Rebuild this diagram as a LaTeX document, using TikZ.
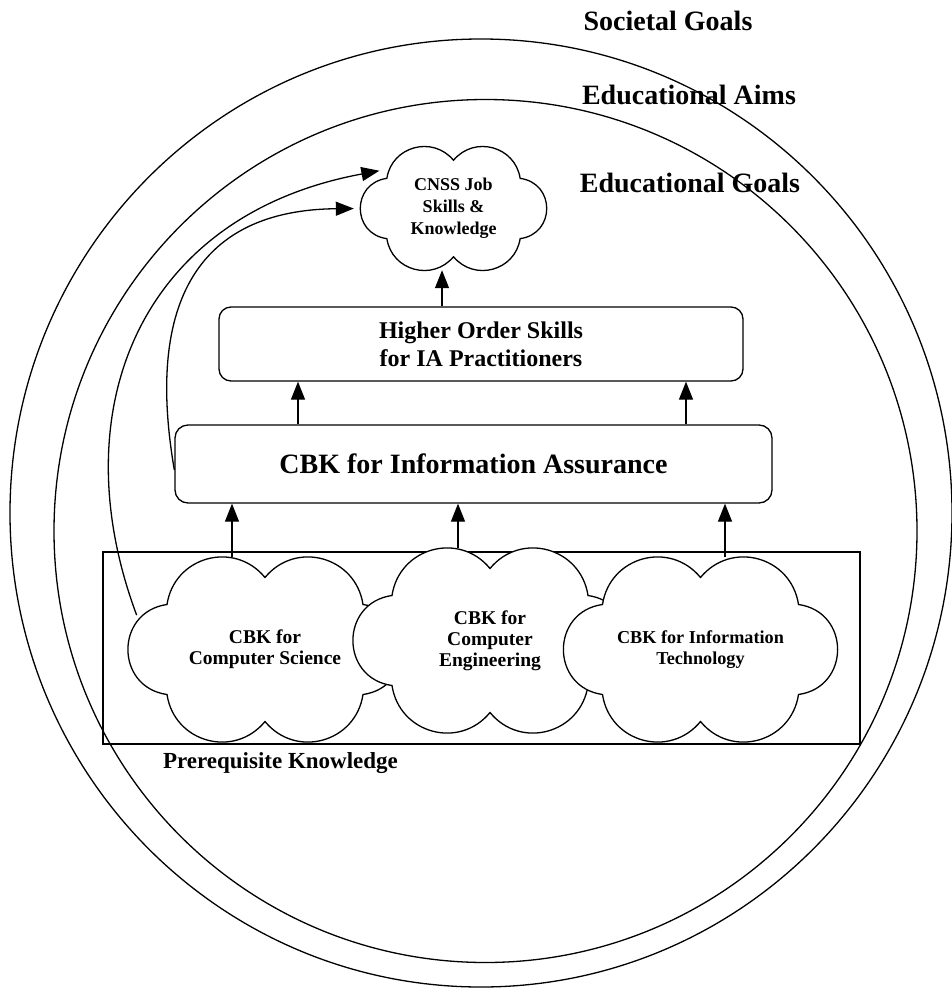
\documentclass[tikz,border=0pt]{standalone}
\usepackage{fontspec}
\setmainfont{Liberation Serif}
\usetikzlibrary{arrows.meta,shapes.geometric}
\newcommand{\cloudoutline}{%
 (98,45) to[bend right=66,looseness=1.22] (0,72)
 to[bend right=66,looseness=1.22] (-98,45)
 to[bend right=82,looseness=1.5] (-98,-45)
 to[bend right=66,looseness=1.22] (0,-72)
 to[bend right=66,looseness=1.22] (98,-45)
 to[bend right=82,looseness=1.5] (98,45) -- cycle}
\newcommand{\drawcloud}[4]{%
 \begin{scope}[shift={(#1,#2)},xscale=#3,yscale=#4]
  \draw[cloudline] \cloudoutline;
 \end{scope}}
\tikzset{
 ln/.style={line width=1.3pt},
 arr/.style={ln,-{Triangle[length=18pt,width=14pt]}},
 cloudline/.style={ln,fill=white},
 boxnode/.style={draw,ln,rounded corners=12pt,align=center,inner sep=0pt},
 cloudnode/.style={ellipse,draw=none,align=center,inner sep=0pt},
 biglbl/.style={font=\fontsize{28}{32}\selectfont\bfseries,inner sep=0pt},
}
\begin{document}
\begin{tikzpicture}[x=1pt,y=1pt]
\useasboundingbox (0,0) rectangle (952,-988);
% circles
\draw[ln] (481,-513) ellipse [x radius=471, y radius=474];
\draw[ln] (485.5,-531) circle [radius=431.5];
% labels
\node[biglbl] (sg) at (668,-21) {Societal Goals};
\node[biglbl] (ea) at (689,-95) {Educational Aims};
\node[biglbl] (eg) at (690,-183) {Educational Goals};
% prerequisite box
\node[draw,ln,minimum width=757pt,minimum height=192pt,inner sep=0pt] (pre) at (481.5,-648) {};
\node[font=\fontsize{23}{26}\selectfont\bfseries,inner sep=0pt,anchor=base] (pk) at (280.5,-768) {Prerequisite Knowledge};
% clouds
\drawcloud{265}{-649.5}{1}{1}
\node[cloudnode,minimum width=276pt,minimum height=185pt,font=\fontsize{19.5}{21}\selectfont\bfseries] (cs) at (265,-649.5) {CBK for\\Computer Science};
\drawcloud{490}{-640.5}{1}{1}
\node[cloudnode,minimum width=276pt,minimum height=185pt,font=\fontsize{19.5}{21}\selectfont\bfseries] (ce) at (490,-640.5) {CBK for\\Computer\\Engineering};
\drawcloud{700.5}{-649.5}{1}{1}
\node[cloudnode,minimum width=276pt,minimum height=185pt,font=\fontsize{18.2}{21}\selectfont\bfseries] (it) at (700.5,-649.5) {CBK for Information\\Technology};
\drawcloud{453.5}{-208.5}{0.68}{0.67}
\node[cloudnode,minimum width=187pt,minimum height=123pt,font=\fontsize{18}{22}\selectfont\bfseries] (cnss) at (453.5,-208.5) {CNSS Job\\Skills \&\\Knowledge};
% boxes
\node[boxnode,minimum width=524pt,minimum height=74pt,font=\fontsize{24}{28}\selectfont\bfseries] (hos) at (481,-344) {Higher Order Skills\\for IA Practitioners};
\node[boxnode,minimum width=597pt,minimum height=78pt,rounded corners=13pt,font=\fontsize{28}{32}\selectfont\bfseries] (ia) at (473.5,-464) {CBK for Information Assurance};
% straight arrows
\draw[arr] ([xshift=-33pt]cs.north) -- ([xshift=-33pt]cs.north |- ia.south);
\draw[arr] ([xshift=-32pt]ce.north) -- ([xshift=-32pt]ce.north |- ia.south);
\draw[arr] ([xshift=24.5pt]it.north) -- ([xshift=24.5pt]it.north |- ia.south);
\draw[arr] ([xshift=-175.5pt]ia.north) -- ([xshift=-175.5pt]ia.north |- hos.south);
\draw[arr] ([xshift=212.5pt]ia.north) -- ([xshift=212.5pt]ia.north |- hos.south);
\draw[arr] ([xshift=-39pt]hos.north) -- ([xshift=-39pt]hos.north |- cnss.south);
% curved arrows
\draw[arr] (cs.165) .. controls (60,-410) and (140,-215) .. (cnss.153);
\draw[arr,shorten >=6pt] ([yshift=-6pt]ia.west) .. controls (145,-300) and (200,-210) .. (cnss.west);
\end{tikzpicture}
\end{document}
